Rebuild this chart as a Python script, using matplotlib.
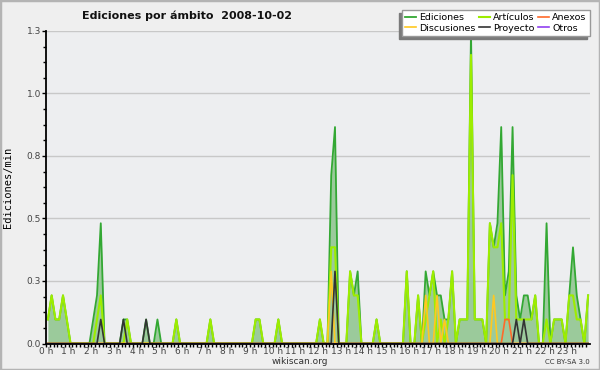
import numpy as np
import matplotlib.pyplot as plt
from matplotlib.patches import Rectangle

# ediciones por intervalo de 10 minutos, 12 intervalos por fila (2 horas)
ediciones = [
    1, 2, 1, 1, 2, 1, 0, 0, 0, 0, 0, 0,
    1, 2, 5, 0, 0, 0, 0, 0, 1, 1, 0, 0,
    0, 0, 1, 0, 0, 1, 0, 0, 0, 0, 1, 0,
    0, 0, 0, 0, 0, 0, 0, 1, 0, 0, 0, 0,
    0, 0, 0, 0, 0, 0, 0, 1, 1, 0, 0, 0,
    0, 1, 0, 0, 0, 0, 0, 0, 0, 0, 0, 0,
    1, 0, 0, 7, 9, 0, 0, 0, 3, 2, 3, 0,
    0, 0, 0, 1, 0, 0, 0, 0, 0, 0, 0, 3,
    0, 0, 2, 0, 3, 2, 3, 2, 2, 1, 1, 3,
    0, 1, 1, 1, 13, 1, 1, 1, 0, 5, 4, 5,
    9, 2, 3, 9, 2, 1, 2, 2, 1, 2, 0, 0,
    5, 0, 1, 1, 1, 0, 2, 4, 2, 1, 0, 2,
]
articulos = [
    1, 2, 1, 1, 2, 1, 0, 0, 0, 0, 0, 0,
    0, 1, 2, 0, 0, 0, 0, 0, 0, 1, 0, 0,
    0, 0, 0, 0, 0, 0, 0, 0, 0, 0, 1, 0,
    0, 0, 0, 0, 0, 0, 0, 1, 0, 0, 0, 0,
    0, 0, 0, 0, 0, 0, 0, 1, 1, 0, 0, 0,
    0, 1, 0, 0, 0, 0, 0, 0, 0, 0, 0, 0,
    1, 0, 0, 4, 4, 0, 0, 0, 3, 2, 2, 0,
    0, 0, 0, 1, 0, 0, 0, 0, 0, 0, 0, 3,
    0, 0, 2, 0, 1, 2, 3, 0, 1, 0, 1, 3,
    0, 1, 1, 1, 12, 1, 1, 1, 0, 5, 4, 4,
    5, 1, 1, 7, 1, 1, 1, 1, 1, 2, 0, 0,
    1, 0, 1, 1, 1, 0, 2, 2, 1, 1, 0, 2,
]
discusiones = [
    0, 0, 0, 0, 0, 0, 0, 0, 0, 0, 0, 0,
    0, 0, 0, 0, 0, 0, 0, 0, 0, 0, 0, 0,
    0, 0, 0, 0, 0, 0, 0, 0, 0, 0, 0, 0,
    0, 0, 0, 0, 0, 0, 0, 0, 0, 0, 0, 0,
    0, 0, 0, 0, 0, 0, 0, 0, 0, 0, 0, 0,
    0, 0, 0, 0, 0, 0, 0, 0, 0, 0, 0, 0,
    0, 0, 0, 3, 0, 0, 0, 0, 0, 0, 0, 0,
    0, 0, 0, 0, 0, 0, 0, 0, 0, 0, 0, 0,
    0, 0, 0, 0, 2, 0, 0, 2, 0, 1, 0, 0,
    0, 0, 0, 0, 0, 0, 0, 0, 0, 0, 2, 0,
    0, 0, 0, 0, 0, 0, 0, 0, 0, 0, 0, 0,
    0, 0, 0, 0, 0, 0, 0, 0, 0, 0, 0, 0,
]
proyecto = [
    0, 0, 0, 0, 0, 0, 0, 0, 0, 0, 0, 0,
    0, 0, 1, 0, 0, 0, 0, 0, 1, 0, 0, 0,
    0, 0, 1, 0, 0, 0, 0, 0, 0, 0, 0, 0,
    0, 0, 0, 0, 0, 0, 0, 0, 0, 0, 0, 0,
    0, 0, 0, 0, 0, 0, 0, 0, 0, 0, 0, 0,
    0, 0, 0, 0, 0, 0, 0, 0, 0, 0, 0, 0,
    0, 0, 0, 0, 3, 0, 0, 0, 0, 0, 0, 0,
    0, 0, 0, 0, 0, 0, 0, 0, 0, 0, 0, 0,
    0, 0, 0, 0, 0, 0, 0, 0, 0, 0, 0, 0,
    0, 0, 0, 0, 0, 0, 0, 0, 0, 0, 0, 0,
    0, 0, 0, 0, 1, 0, 1, 0, 0, 0, 0, 0,
    0, 0, 0, 0, 0, 0, 0, 0, 0, 0, 0, 0,
]
anexos = [0] * 120 + [0, 1, 1] + [0] * 21
otros = [0] * 144

escala = 0.0962  # Ediciones/min por cada edición del intervalo
horas = (np.arange(144) + 0.5) / 6

y_ticks = [0, 0.25, 0.5, 0.75, 1.0, 1.25]
y_labels = ['0.0', '0.3', '0.5', '0.8', '1.0', '1.3']
x_labels = ['%d h' % h for h in range(24)]

fig = plt.figure(figsize=(6, 3.7), dpi=100, facecolor='#efefef')
fig.patches.append(Rectangle((0, 0), 1, 1, transform=fig.transFigure,
                             fill=False, edgecolor='#b4b4b4', lw=2.5))
ax = fig.add_axes([46 / 600, 1 - 343.5 / 370, 544 / 600, 312.5 / 370])
ax.set_facecolor('#edeef0')

ed = np.array(ediciones) * escala
ax.fill_between(horas, ed, color='#9bca9b', lw=0)
ax.plot(horas, ed, color='#33a833', lw=1.3, label='Ediciones')
ax.plot(horas, np.array(articulos) * escala, color='#9ded00', lw=1.5, label='Artículos')
ax.plot(horas, np.array(anexos) * escala, color='#ff6a2a', lw=1.2, label='Anexos')
ax.plot(horas, np.array(discusiones) * escala, color='#ffc820', lw=1.2, label='Discusiones')
ax.plot(horas, np.array(proyecto) * escala, color='#333333', lw=1.2, label='Proyecto')
ax.plot(horas, np.array(otros) * escala, color='#9040f0', lw=1.2, label='Otros')

ax.set_xlim(0, 24)
ax.set_ylim(0, 1.25)
ax.set_yticks(y_ticks)
ax.set_yticklabels(y_labels)
ax.set_yticks(np.arange(0, 1.25, 0.0625), minor=True)
ax.set_xticks(range(24))
ax.set_xticklabels(x_labels)
ax.set_xticks(np.arange(0, 24, 1 / 6), minor=True)
ax.grid(axis='y', color='#c8c8c8', lw=1)
ax.set_axisbelow(True)
for s in ['top', 'right']:
    ax.spines[s].set_visible(False)
for s in ['left', 'bottom']:
    ax.spines[s].set_linewidth(1.3)
    ax.spines[s].set_zorder(5)
ax.tick_params(axis='both', which='both', labelsize=6.5, labelcolor='#444444', width=1)
ax.tick_params(axis='x', which='both', length=2.2, pad=0.2)
ax.tick_params(axis='y', which='major', length=3.2, pad=0.5)
ax.tick_params(axis='y', which='minor', length=2.2)
ax.set_ylabel('Ediciones/min', family='DejaVu Sans Mono', fontsize=7.5, labelpad=10)

h = [ax.lines[i] for i in [0, 3, 1, 4, 2, 5]]
leg = ax.legend(h, [l.get_label() for l in h], ncol=3, loc='upper right',
                bbox_to_anchor=(590 / 600, 1 - 10 / 370), bbox_transform=fig.transFigure,
                fontsize=6.8, frameon=True, fancybox=False, edgecolor='#999999',
                framealpha=1, borderpad=0.35, labelspacing=0.15, columnspacing=0.35,
                handlelength=1.1, handletextpad=0.4, borderaxespad=0,
                shadow={'ox': -2, 'oy': -2, 'facecolor': '#7a7a7a',
                        'edgecolor': '#7a7a7a', 'alpha': 1})
leg.get_frame().set_linewidth(1.0)
leg.set_zorder(10)

fig.text(187 / 600, 1 - 16 / 370, 'Ediciones por ámbito  2008-10-02', ha='center',
         va='center', fontsize=8, fontweight='bold', color='#111111')
fig.text(300 / 600, 1 - 362 / 370, 'wikiscan.org', ha='center', va='center',
         fontsize=6.5, color='#333333')
fig.text(590 / 600, 1 - 362 / 370, 'CC BY-SA 3.0', ha='right', va='center',
         fontsize=5, color='#333333')

fig.savefig('out.png', dpi=100, facecolor=fig.get_facecolor())
